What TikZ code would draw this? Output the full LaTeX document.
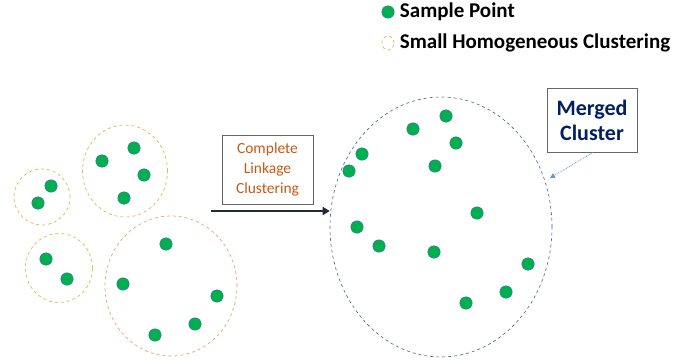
\documentclass[tikz,border=0pt]{standalone}
\usepackage{fontspec}
\setmainfont{Carlito}
\usetikzlibrary{positioning}
\usetikzlibrary{shapes.geometric}
\usetikzlibrary{arrows.meta}
\definecolor{ptgreen}{HTML}{00B050}
\definecolor{ptedge}{HTML}{41719C}
\definecolor{gold}{HTML}{E3B448}
\definecolor{peach}{HTML}{E9A07A}
\definecolor{slate}{HTML}{4A5F8C}
\definecolor{ink}{HTML}{222A35}
\definecolor{rust}{HTML}{C55A11}
\definecolor{navy}{HTML}{002060}
\definecolor{sky}{HTML}{5B9BD5}
\tikzset{
    clusters/.style={
            x=1pt,y=-1pt,
            point/.style={circle,fill=ptgreen,draw=ptedge,line width=0.4pt,inner sep=0pt,minimum size=12.5pt},
            small/.style={ellipse,draw=gold,dashed,line width=0.7pt,inner sep=0pt},
            big/.style={ellipse,draw=peach,dashed,line width=0.7pt,inner sep=0pt},
            merged/.style={ellipse,draw=slate,dashed,line width=0.6pt,inner sep=0pt},
            labelbox/.style={draw=gray!80!black,line width=0.8pt,align=center,inner sep=0pt}
        }
    }

\begin{document}
\begin{tikzpicture}[clusters]
    \useasboundingbox (0,0) rectangle (694,364);
    % legend
    \node[point] (lgpt) at (388,12) {};
    \node[right=2pt of lgpt,font=\fontsize{21}{23}\selectfont\bfseries] (lgptlab) {Sample Point};
    \node[small,minimum width=12pt,minimum height=14pt] (lgcl) at (388,43) {};
    \node[right=2pt of lgcl,font=\fontsize{21}{23}\selectfont\bfseries] (lgcllab) {Small Homogeneous Clustering};
    % small clusters
    \node[small,minimum width=56pt,minimum height=56pt] (ca) at (42,197) {};
    \node[point] (a1) at (51,186) {};
    \node[point] (a2) at (38,203) {};
    \node[small,minimum width=85pt,minimum height=92pt] (cb) at (125,171) {};
    \node[point] (b1) at (134,148) {};
    \node[point] (b2) at (102,161) {};
    \node[point] (b3) at (144,175) {};
    \node[point] (b4) at (124,198) {};
    \node[small,minimum width=67pt,minimum height=69pt] (cc) at (59,268) {};
    \node[point] (c1) at (46,259) {};
    \node[point] (c2) at (67,279) {};
    \node[big,minimum width=132pt,minimum height=140pt] (cd) at (171,286) {};
    \node[point] (d1) at (166,244) {};
    \node[point] (d2) at (123,284) {};
    \node[point] (d3) at (217,296) {};
    \node[point] (d4) at (195,324) {};
    \node[point] (d5) at (155,335) {};
    % merged cluster
    \node[merged,minimum width=222pt,minimum height=260pt] (cm) at (441,227) {};
    \foreach \px/\py [count=\i] in {413/129,446/116,456/143,362/154,349/171,435/166,477/213,357/227,379/246,434/252,528/264,506/292,466/303}
        \node[point] (m\i) at (\px,\py) {};
    % step box and arrow
    \node[labelbox,minimum width=91pt,minimum height=69pt,text=rust,font=\fontsize{15.5}{20}\selectfont] (link) at (267.5,169.5) {Complete\\Linkage\\Clustering};
    \coordinate (from) at (211,211);
    \draw[-{Triangle[length=7pt,width=8pt]},line width=2.4pt,draw=ink] (from) -- (from -| cm.west);
    \node[labelbox,minimum width=90pt,minimum height=64pt,text=navy,font=\fontsize{22}{25}\selectfont\bfseries] (mlab) at (592,120) {Merged\\Cluster};
    \coordinate (tip) at (550,178);
    \draw[-{Triangle[length=5pt,width=5pt]},densely dotted,line width=0.8pt,draw=sky] (mlab.south) ++(1,0) coordinate (tail) (tail) -- (tip);
\end{tikzpicture}
\end{document}
